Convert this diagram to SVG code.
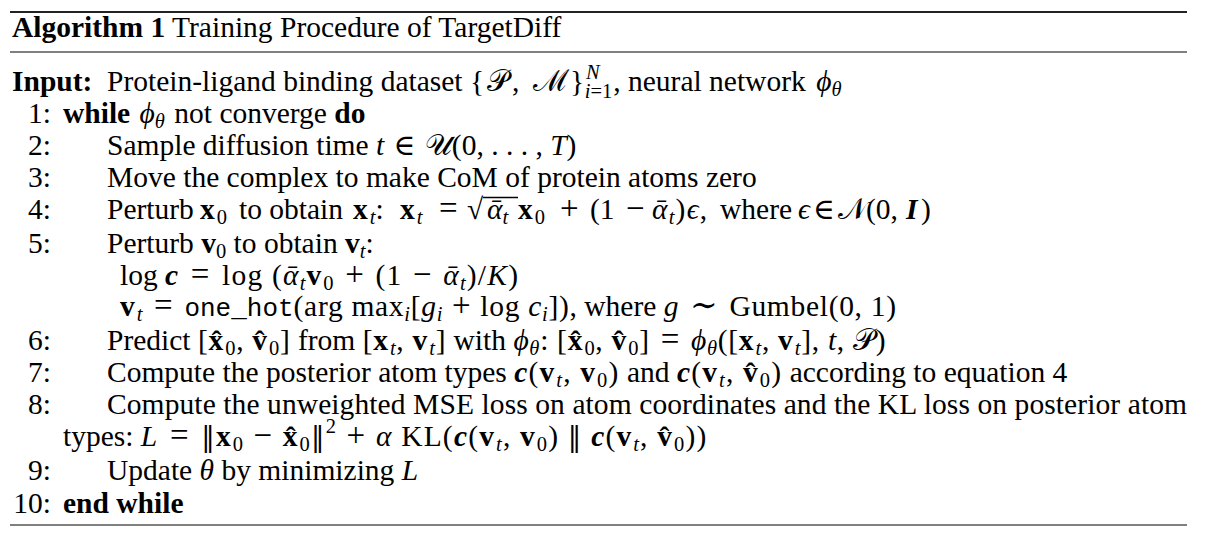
<svg xmlns="http://www.w3.org/2000/svg" width="1211" height="545" viewBox="0 0 1211 545">
<style>
text { font-family: "Liberation Serif", "DejaVu Serif", serif; font-size: 29.5px; fill: #000; }
.b { font-weight: bold; }
.mb { font-weight: bold; letter-spacing: 2px; }
.i { font-style: italic; }
.bi { font-weight: bold; font-style: italic; }
.s { font-size: 20.5px; }
.op { font-size: 33px; }
.mt { letter-spacing: 1.2px; }
.mt2 { letter-spacing: 0.7px; }
.mt3 { letter-spacing: 3px; }
.nb { font-family: "DejaVu Serif", serif; font-size: 27px; }
.m { font-family: "Liberation Mono", "DejaVu Sans Mono", monospace; font-size: 26px; letter-spacing: 0; }
.n { text-anchor: end; }
.rule { stroke: #808080; stroke-width: 2; }
</style>
<rect width="1211" height="545" fill="#fff"/>
<g id="rules">
<line class="rule" x1="10" y1="12" x2="1187" y2="12" style="stroke:#222"/>
<line class="rule" x1="10" y1="52" x2="1187" y2="52"/>
<line class="rule" x1="10" y1="525" x2="1187" y2="525"/>
</g>

<text x="12" y="37"><tspan class="b">Algorithm 1</tspan> Training Procedure of TargetDiff</text>

<text x="12" y="91" class="b">Input:</text>
<text x="107" y="91">Protein-ligand binding dataset <tspan class="mt3">{𝒫, ℳ</tspan>}<tspan class="s i" dx="2" dy="-12">N</tspan><tspan class="s" dx="-15" dy="19"><tspan class="i">i</tspan>=1</tspan><tspan dy="-7" dx="1">, neural network </tspan><tspan class="i" dx="3">ϕ</tspan><tspan class="s i" dy="5">θ</tspan></text>

<text class="n" x="51" y="123">1:</text>
<text x="63" y="123"><tspan class="b">while</tspan> <tspan class="i" dx="2">ϕ</tspan><tspan class="s i" dy="5">θ</tspan><tspan dy="-5" dx="2"> not converge </tspan><tspan class="b">do</tspan></text>

<text class="n" x="51" y="155">2:</text>
<text x="107" y="155">Sample diffusion time <tspan class="i">t</tspan><tspan dx="2"> ∈ </tspan><tspan dx="2">𝒰(0, . . . , </tspan><tspan class="i">T</tspan>)</text>

<text class="n" x="51" y="187">3:</text>
<text x="107" y="187">Move the complex to make CoM of protein atoms zero</text>

<text class="n" x="51" y="219">4:</text>
<line x1="483" y1="197.5" x2="518" y2="197.5" stroke="#000" stroke-width="1.3"/>
<text y="219"><tspan x="107">Perturb </tspan><tspan class="mb" x="200">x</tspan><tspan class="s" dy="5">0</tspan><tspan x="239" dy="-5">to obtain </tspan><tspan class="mb" x="353">x</tspan><tspan class="s i" dy="5">t</tspan><tspan dy="-5">:</tspan><tspan class="mb" x="400">x</tspan><tspan class="s i" dy="5">t</tspan><tspan class="op" x="439" dy="-5">=</tspan><tspan x="467">√</tspan><tspan class="i" x="487">ᾱ</tspan><tspan class="s i" dy="5">t</tspan><tspan class="mb" x="518" dy="-5">x</tspan><tspan class="s" dy="5">0</tspan><tspan class="op" x="560" dy="-5">+</tspan><tspan x="590">(1</tspan><tspan class="op" x="626">−</tspan><tspan class="mt" x="652"><tspan class="i">ᾱ</tspan><tspan class="s i" dy="5">t</tspan><tspan dy="-5">)</tspan><tspan class="i">ϵ</tspan>,</tspan><tspan x="720">where</tspan><tspan class="i" x="798">ϵ</tspan><tspan x="813">∈</tspan><tspan x="838">𝒩</tspan><tspan x="866">(0,</tspan><tspan class="bi" x="906">I</tspan><tspan x="921">)</tspan></text>

<text class="n" x="51" y="253">5:</text>
<text x="107" y="253">Perturb <tspan class="b">v</tspan><tspan class="s" dy="5">0</tspan><tspan dy="-5"> to obtain </tspan><tspan class="b">v</tspan><tspan class="s i" dy="5">t</tspan><tspan dy="-5">:</tspan></text>
<text x="120" y="285">log <tspan class="mt"><tspan class="bi">c</tspan><tspan class="op" dx="2"> = </tspan><tspan dx="2">log (</tspan><tspan class="i">ᾱ</tspan><tspan class="s i" dy="5">t</tspan><tspan class="mb" dy="-5">v</tspan><tspan class="s" dy="5">0</tspan><tspan class="op" dy="-5" dx="1"> + </tspan><tspan dx="1">(1</tspan><tspan class="op" dx="1"> − </tspan><tspan class="i" dx="1">ᾱ</tspan><tspan class="s i" dy="5">t</tspan><tspan dy="-5">)/</tspan><tspan class="i">K</tspan>)</tspan></text>
<text x="120" y="316"><tspan class="mt2"><tspan class="mb">v</tspan><tspan class="s i" dy="5">t</tspan><tspan class="op" dx="2" dy="-5"> = </tspan><tspan class="m" dx="2">one_hot</tspan>(arg max<tspan class="s i" dy="5">i</tspan><tspan dy="-5">[</tspan><tspan class="i">g</tspan><tspan class="s i" dy="5">i</tspan><tspan class="op" dy="-5"> + </tspan>log <tspan class="i">c</tspan><tspan class="s i" dy="5">i</tspan><tspan dy="-5">])</tspan></tspan>, where <tspan class="mt2"><tspan class="i">g</tspan><tspan class="op" dx="2"> ∼ </tspan><tspan dx="2">Gumbel(0, 1)</tspan></tspan></text>

<text class="n" x="51" y="350">6:</text>
<text x="107" y="350">Predict <tspan class="mt2">[<tspan class="mb">x̂</tspan><tspan class="s" dy="5">0</tspan><tspan dy="-5">, </tspan><tspan class="mb">v̂</tspan><tspan class="s" dy="5">0</tspan><tspan dy="-5">]</tspan></tspan> from <tspan class="mt2">[<tspan class="mb">x</tspan><tspan class="s i" dy="5">t</tspan><tspan dy="-5">, </tspan><tspan class="mb">v</tspan><tspan class="s i" dy="5">t</tspan><tspan dy="-5">]</tspan></tspan> with <tspan class="mt2"><tspan class="i">ϕ</tspan><tspan class="s i" dy="5">θ</tspan><tspan dy="-5">: [</tspan><tspan class="mb">x̂</tspan><tspan class="s" dy="5">0</tspan><tspan dy="-5">, </tspan><tspan class="mb">v̂</tspan><tspan class="s" dy="5">0</tspan><tspan dy="-5">]</tspan><tspan class="op" dx="2"> = </tspan><tspan class="i" dx="2">ϕ</tspan><tspan class="s i" dy="5">θ</tspan><tspan dy="-5">([</tspan><tspan class="mb">x</tspan><tspan class="s i" dy="5">t</tspan><tspan dy="-5">, </tspan><tspan class="mb">v</tspan><tspan class="s i" dy="5">t</tspan><tspan dy="-5">], </tspan><tspan class="i">t</tspan>, 𝒫)</tspan></text>

<text class="n" x="51" y="382">7:</text>
<text x="107" y="382">Compute the posterior atom types <tspan class="mt"><tspan class="bi">c</tspan>(<tspan class="mb">v</tspan><tspan class="s i" dy="5">t</tspan><tspan dy="-5">, </tspan><tspan class="mb">v</tspan><tspan class="s" dy="5">0</tspan><tspan dy="-5">)</tspan></tspan> and <tspan class="mt"><tspan class="bi">c</tspan>(<tspan class="mb">v</tspan><tspan class="s i" dy="5">t</tspan><tspan dy="-5">, </tspan><tspan class="mb">v̂</tspan><tspan class="s" dy="5">0</tspan><tspan dy="-5">)</tspan></tspan> according to equation 4</text>

<text class="n" x="51" y="414">8:</text>
<text x="107" y="414" textLength="1080" lengthAdjust="spacing">Compute the unweighted MSE loss on atom coordinates and the KL loss on posterior atom</text>
<text x="63" y="446">types: <tspan class="mt"><tspan class="i">L</tspan><tspan class="op" dx="2"> = </tspan><tspan class="nb" dx="2">‖</tspan><tspan class="mb">x</tspan><tspan class="s" dy="5">0</tspan><tspan class="op" dy="-5"> − </tspan><tspan class="mb">x̂</tspan><tspan class="s" dy="5">0</tspan><tspan class="nb" dy="-5">‖</tspan><tspan class="s" dy="-13">2</tspan><tspan class="op" dy="13"> + </tspan><tspan class="i">α</tspan> KL(<tspan class="bi">c</tspan>(<tspan class="mb">v</tspan><tspan class="s i" dy="5">t</tspan><tspan dy="-5">, </tspan><tspan class="mb">v</tspan><tspan class="s" dy="5">0</tspan><tspan dy="-5">) </tspan><tspan class="nb">‖</tspan> <tspan class="bi">c</tspan>(<tspan class="mb">v</tspan><tspan class="s i" dy="5">t</tspan><tspan dy="-5">, </tspan><tspan class="mb">v̂</tspan><tspan class="s" dy="5">0</tspan><tspan dy="-5">))</tspan></tspan></text>

<text class="n" x="51" y="480">9:</text>
<text x="107" y="480">Update <tspan class="i">θ</tspan> by minimizing <tspan class="i">L</tspan></text>

<text class="n" x="51" y="513">10:</text>
<text x="63" y="513" class="b">end while</text>
</svg>
